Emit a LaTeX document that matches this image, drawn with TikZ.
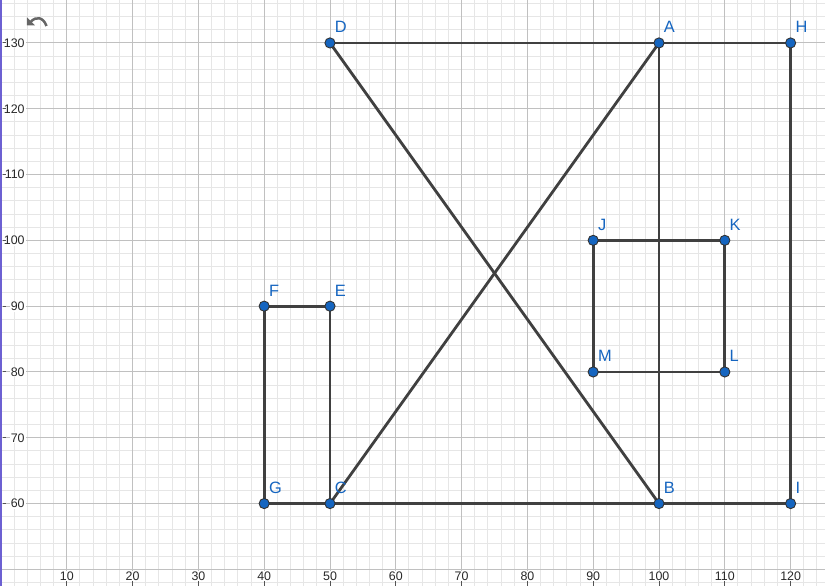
\documentclass[tikz,border=0pt]{standalone}
\usepackage{fontspec}
\setmainfont{Liberation Sans}
\definecolor{ggblue}{RGB}{21,101,192}
\definecolor{seggray}{RGB}{64,64,64}
\definecolor{majorgrid}{RGB}{192,192,192}
\definecolor{minorgrid}{RGB}{230,230,230}
\definecolor{axistext}{RGB}{40,40,40}
\definecolor{barpurple}{RGB}{108,96,210}
\definecolor{icongray}{RGB}{102,102,102}
\begin{document}
\begin{tikzpicture}[x=3.29pt,y=3.29pt,
  minorline/.style={draw=minorgrid,line width=0.5pt},
  majorline/.style={draw=majorgrid,line width=0.5pt},
  tickline/.style={draw=axistext!80,line width=0.5pt},
  seg/.style={draw=seggray,line width=1.4pt,line cap=round},
  ptdot/.style={circle,fill=ggblue,draw=black!80,line width=0.45pt,minimum size=5.1pt,inner sep=0pt},
  lbl/.style={text=ggblue,font=\fontsize{8.2}{9}\selectfont,inner sep=0pt,anchor=base west},
  ticklbl/.style={text=axistext,fill=white,font=\fontsize{6.2}{7}\selectfont,inner sep=0.5pt}]

\useasboundingbox (-0.152,47.51) rectangle (125.23,136.53);
\clip (-0.152,47.51) rectangle (125.23,136.53);
\fill[white] (-0.152,47.51) rectangle (125.23,136.53);

% grid
\foreach \x in {0,2,...,124} \draw[minorline] (\x,47.51) -- (\x,136.53);
\foreach \y in {48,50,...,136} \draw[minorline] (-0.152,\y) -- (125.23,\y);
\foreach \x in {0,10,...,120} \draw[majorline] (\x,47.51) -- (\x,136.53);
\foreach \y in {50,60,...,130} \draw[majorline] (-0.152,\y) -- (125.23,\y);

% axis numbers
\foreach \x in {10,20,...,120} {
  \node[ticklbl,anchor=base] (xl\x) at (\x,48.35) {\x};
  \draw[tickline] (\x,47.51) -- (\x,48.3);
}
\foreach \y in {60,70,...,130} {
  \node[ticklbl,anchor=east] (yl\y) at (3.8,\y) {\y};
  \draw[tickline] (0.23,\y) -- (0.76,\y);
}

% left bar
\fill[barpurple] (-0.152,47.51) rectangle (0.152,136.53);

% undo icon (pixel coordinates)
\begin{scope}[shift={(-0.152,136.53)},x=0.5pt,y=-0.5pt]
  \fill[icongray] (27,17.5) -- (27,25.5) -- (35,25.5) -- cycle;
  \draw[icongray,line width=1.25pt] (31,21.5) .. controls (36,16.5) and (43,16.5) .. (46.5,26);
\end{scope}

% points
\coordinate (A) at (100,130);
\coordinate (B) at (100,60);
\coordinate (C) at (50,60);
\coordinate (D) at (50,130);
\coordinate (E) at (50,90);
\coordinate (F) at (40,90);
\coordinate (G) at (40,60);
\coordinate (H) at (120,130);
\coordinate (I) at (120,60);
\coordinate (J) at (90,100);
\coordinate (K) at (110,100);
\coordinate (L) at (110,80);
\coordinate (M) at (90,80);

% segments
\draw[seg] (D) -- (A);
\draw[seg] (A) -- (H);
\draw[seg] (H) -- (I);
\draw[seg] (I) -- (B);
\draw[seg] (B) -- (C);
\draw[seg] (C) -- (G);
\draw[seg] (G) -- (F);
\draw[seg] (F) -- (E);
\draw[seg] (E) -- (C);
\draw[seg] (A) -- (B);
\draw[seg] (D) -- (B);
\draw[seg] (A) -- (C);
\draw[seg] (J) -- (K);
\draw[seg] (K) -- (L);
\draw[seg] (L) -- (M);
\draw[seg] (M) -- (J);

% point markers and labels
\foreach \n in {A,B,C,D,E,F,G,H,I,J,K,L,M} {
  \node[ptdot] (p\n) at (\n) {};
  \node[lbl] (l\n) at ([xshift=2.25pt,yshift=5pt]\n) {\n};
}
\end{tikzpicture}
\end{document}
